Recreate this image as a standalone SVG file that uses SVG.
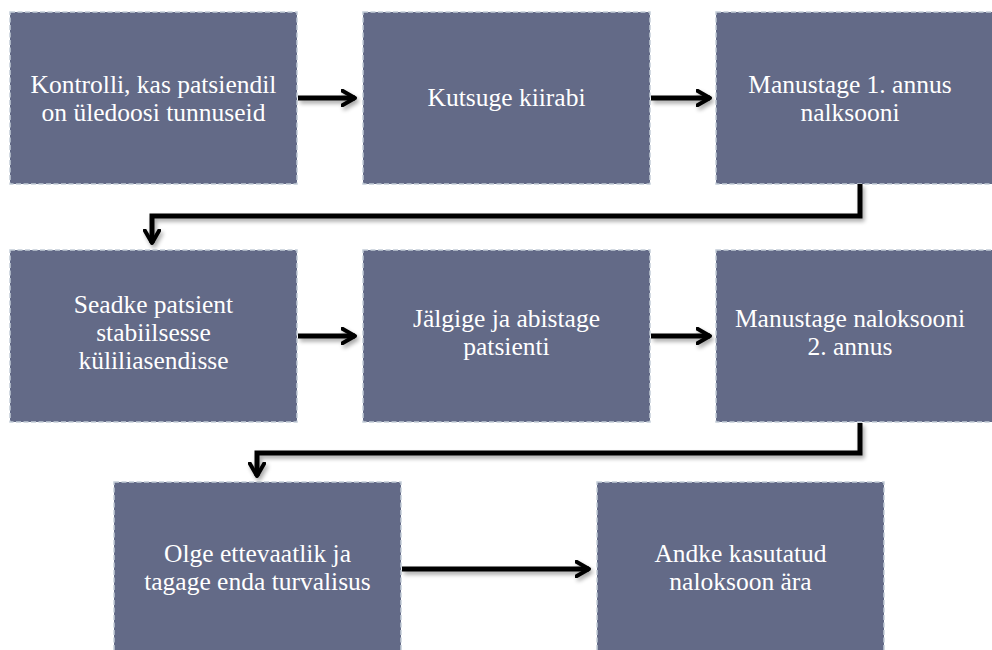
<svg xmlns="http://www.w3.org/2000/svg" width="992" height="650" viewBox="0 0 992 650">
<style>
.box{fill:#636a87;stroke:#c3cdd8;stroke-width:1.5;stroke-dasharray:5 2.5}
.t{font-family:"Liberation Serif","Times New Roman",serif;font-size:25.5px;fill:#ffffff;text-anchor:middle}
.c{fill:none;stroke:#000;stroke-width:5;stroke-linejoin:miter}
</style>
<defs>
<filter id="sh" filterUnits="userSpaceOnUse" x="0" y="0" width="992" height="650">
<feGaussianBlur in="SourceAlpha" stdDeviation="2"/>
<feOffset dx="2" dy="3" result="b"/>
<feComponentTransfer><feFuncA type="linear" slope="0.35"/></feComponentTransfer>
<feMerge><feMergeNode/><feMergeNode in="SourceGraphic"/></feMerge>
</filter>
<marker id="ah" viewBox="0 0 10 10" refX="8" refY="5" markerWidth="3.6" markerHeight="3.6" orient="auto" markerUnits="strokeWidth">
<path d="M1,1 L8,5 L1,9" fill="none" stroke="#000" stroke-width="2.2" stroke-linecap="round" stroke-linejoin="round"/>
</marker>
</defs>
<g id="n1"><rect class="box" x="10" y="12" width="287" height="172"/><text class="t" x="153.5" y="93">Kontrolli, kas patsiendil</text><text class="t" x="153.5" y="121">on üledoosi tunnuseid</text></g>
<g id="n2"><rect class="box" x="363" y="12" width="287" height="172"/><text class="t" x="506.5" y="106">Kutsuge kiirabi</text></g>
<g id="n3"><rect class="box" x="716" y="12" width="287" height="172"/><text class="t" x="850" y="93">Manustage 1. annus</text><text class="t" x="850" y="121">nalksooni</text></g>
<g id="n4"><rect class="box" x="10" y="250" width="287" height="172"/><text class="t" x="153.5" y="313">Seadke patsient</text><text class="t" x="153.5" y="341">stabiilsesse</text><text class="t" x="153.5" y="369">küliliasendisse</text></g>
<g id="n5"><rect class="box" x="363" y="250" width="287" height="172"/><text class="t" x="506.5" y="327">Jälgige ja abistage</text><text class="t" x="506.5" y="355">patsienti</text></g>
<g id="n6"><rect class="box" x="716" y="250" width="287" height="172"/><text class="t" x="850" y="327">Manustage naloksooni</text><text class="t" x="850" y="355">2. annus</text></g>
<g id="n7"><rect class="box" x="114" y="482" width="287" height="172"/><text class="t" x="257.5" y="562">Olge ettevaatlik ja</text><text class="t" x="257.5" y="590">tagage enda turvalisus</text></g>
<g id="n8"><rect class="box" x="597" y="482" width="287" height="172"/><text class="t" x="740.5" y="562">Andke kasutatud</text><text class="t" x="740.5" y="590">naloksoon ära</text></g>
<g id="connectors" filter="url(#sh)">
<path class="c" d="M298,98 H355" marker-end="url(#ah)"/>
<path class="c" d="M651,98 H710" marker-end="url(#ah)"/>
<path class="c" d="M860,184 V216 H152 V243" marker-end="url(#ah)"/>
<path class="c" d="M298,336 H355" marker-end="url(#ah)"/>
<path class="c" d="M651,336 H710" marker-end="url(#ah)"/>
<path class="c" d="M860,423 V453 H257 V476" marker-end="url(#ah)"/>
<path class="c" d="M402,569 H589" marker-end="url(#ah)"/>
</g>
</svg>
